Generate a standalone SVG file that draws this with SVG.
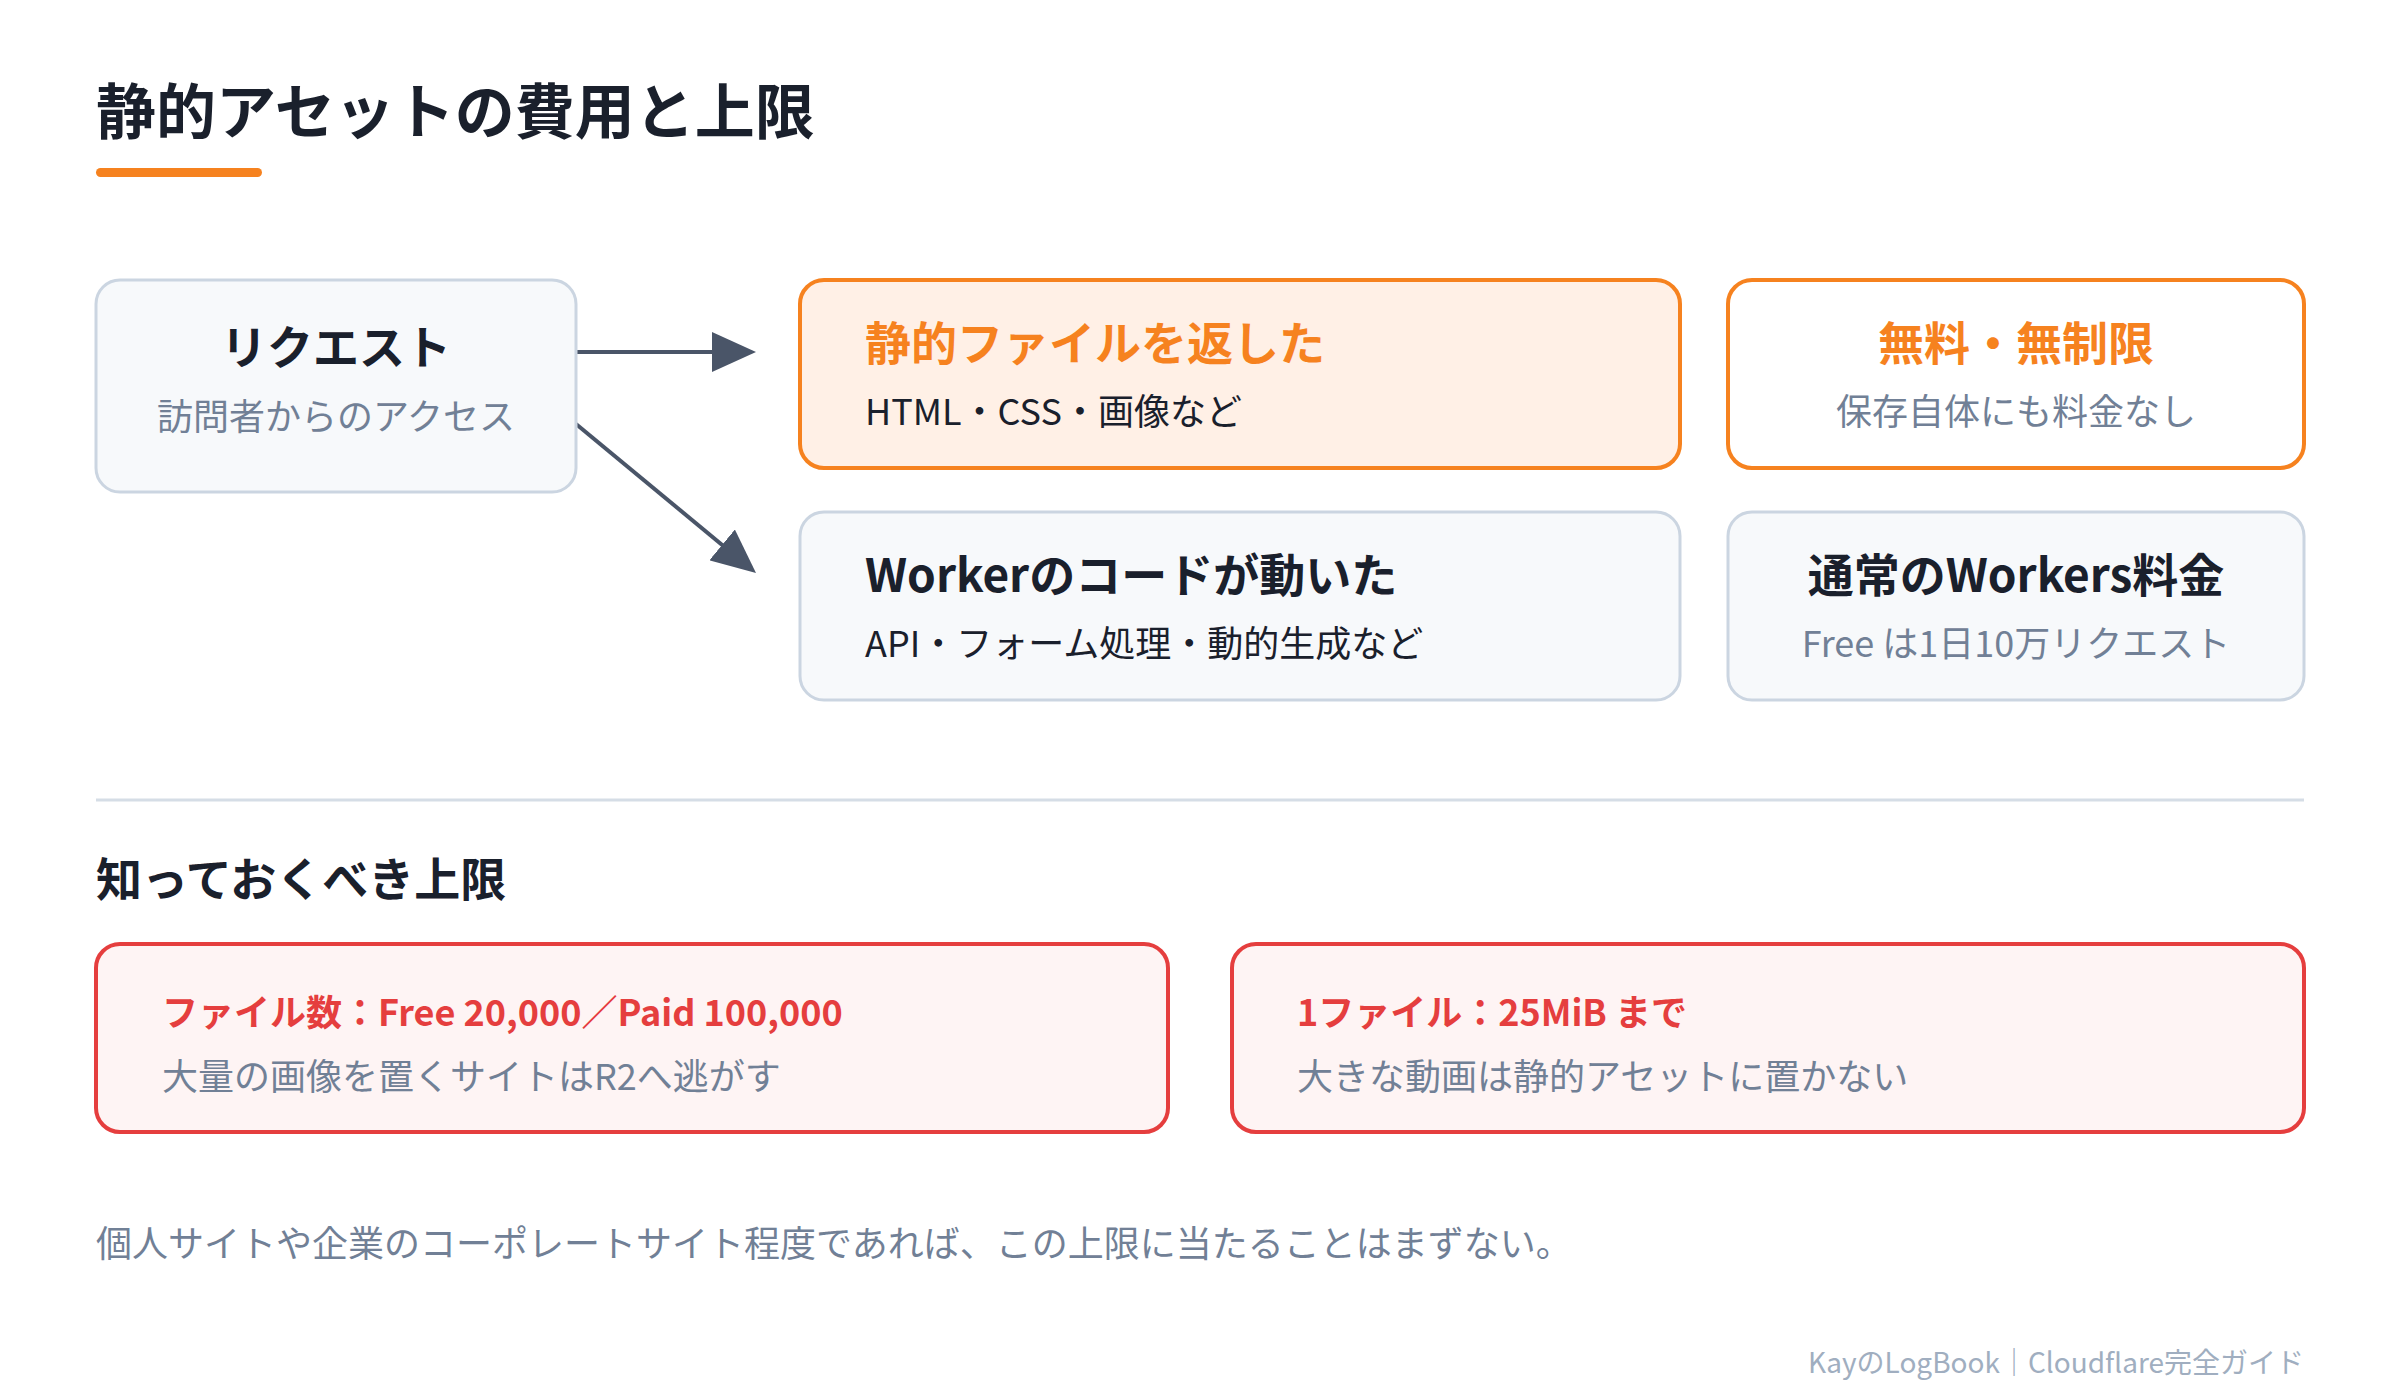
<svg xmlns="http://www.w3.org/2000/svg" width="2400" height="1400" viewBox="0 0 2400 1400">
<defs>
<style>
text{font-family:"Noto Sans CJK JP","Noto Sans",sans-serif;}
.h1{font-size:60px;font-weight:700;fill:#1a202c;}
.h2{font-size:46px;font-weight:700;fill:#1a202c;}
.nt{font-size:46px;font-weight:700;fill:#1a202c;}
.ntO{font-size:46px;font-weight:700;fill:#f6821f;}
.sub{font-size:36px;fill:#718096;}
.subD{font-size:36px;fill:#1a202c;}
.rt{font-size:36px;font-weight:700;fill:#e53e3e;}
.note{font-size:36px;fill:#718096;}
.cred{font-size:28px;fill:#a0aec0;}
.gray{fill:#f7f9fb;stroke:#cbd5e1;stroke-width:3;}
.orgF{fill:#fff0e6;stroke:#f6821f;stroke-width:4;}
.orgW{fill:#ffffff;stroke:#f6821f;stroke-width:4;}
.red{fill:#fef4f4;stroke:#e53e3e;stroke-width:4;}
.c{text-anchor:middle;}
.conn{stroke:#4a5568;stroke-width:4;fill:none;marker-end:url(#ah);}
</style>
<marker id="ah" markerUnits="userSpaceOnUse" markerWidth="44" markerHeight="40" refX="24" refY="20" orient="auto" viewBox="0 0 44 40">
<path d="M0,0 L44,20 L0,40 z" fill="#4a5568"/>
</marker>
</defs>
<rect width="2400" height="1400" fill="#ffffff"/>

<g id="title">
<text class="h1" x="96" y="134">静的アセットの費用と上限</text>
<rect x="96" y="168" width="166" height="9" rx="4.5" fill="#f6821f"/>
</g>

<g id="connectors">
<line class="conn" x1="576" y1="352" x2="736" y2="352"/>
<line class="conn" x1="576" y1="424" x2="740.6" y2="560.2"/>
</g>

<g id="node-request">
<rect class="gray" x="96" y="280" width="480" height="212" rx="24"/>
<text class="nt c" x="336" y="364">リクエスト</text>
<text class="sub c" x="336" y="430">訪問者からのアクセス</text>
</g>

<g id="node-static">
<rect class="orgF" x="800" y="280" width="880" height="188" rx="24"/>
<text class="ntO" x="865" y="360">静的ファイルを返した</text>
<text class="subD" x="865" y="425">HTML・CSS・画像など</text>
</g>

<g id="node-free">
<rect class="orgW" x="1728" y="280" width="576" height="188" rx="24"/>
<text class="ntO c" x="2016" y="360">無料・無制限</text>
<text class="sub c" x="2016" y="425">保存自体にも料金なし</text>
</g>

<g id="node-worker">
<rect class="gray" x="800" y="512" width="880" height="188" rx="24"/>
<text class="nt" x="865" y="592">Workerのコードが動いた</text>
<text class="subD" x="865" y="657">API・フォーム処理・動的生成など</text>
</g>

<g id="node-workers-fee">
<rect class="gray" x="1728" y="512" width="576" height="188" rx="24"/>
<text class="nt c" x="2016" y="592">通常のWorkers料金</text>
<text class="sub c" x="2016" y="657">Free は1日10万リクエスト</text>
</g>

<line x1="96" y1="800" x2="2304" y2="800" stroke="#d5dde6" stroke-width="3"/>

<g id="limits-heading">
<text class="h2" x="96" y="896">知っておくべき上限</text>
</g>

<g id="limit-files">
<rect class="red" x="96" y="944" width="1072" height="188" rx="24"/>
<text class="rt" x="162" y="1026">ファイル数：Free 20,000／Paid 100,000</text>
<text class="sub" x="162" y="1090">大量の画像を置くサイトはR2へ逃がす</text>
</g>

<g id="limit-size">
<rect class="red" x="1232" y="944" width="1072" height="188" rx="24"/>
<text class="rt" x="1297" y="1026">1ファイル：25MiB まで</text>
<text class="sub" x="1297" y="1090">大きな動画は静的アセットに置かない</text>
</g>

<g id="note">
<text class="note" x="96" y="1257">個人サイトや企業のコーポレートサイト程度であれば、この上限に当たることはまずない。</text>
</g>

<g id="credit">
<text class="cred" x="2304" y="1373" text-anchor="end">KayのLogBook｜Cloudflare完全ガイド</text>
</g>
</svg>
